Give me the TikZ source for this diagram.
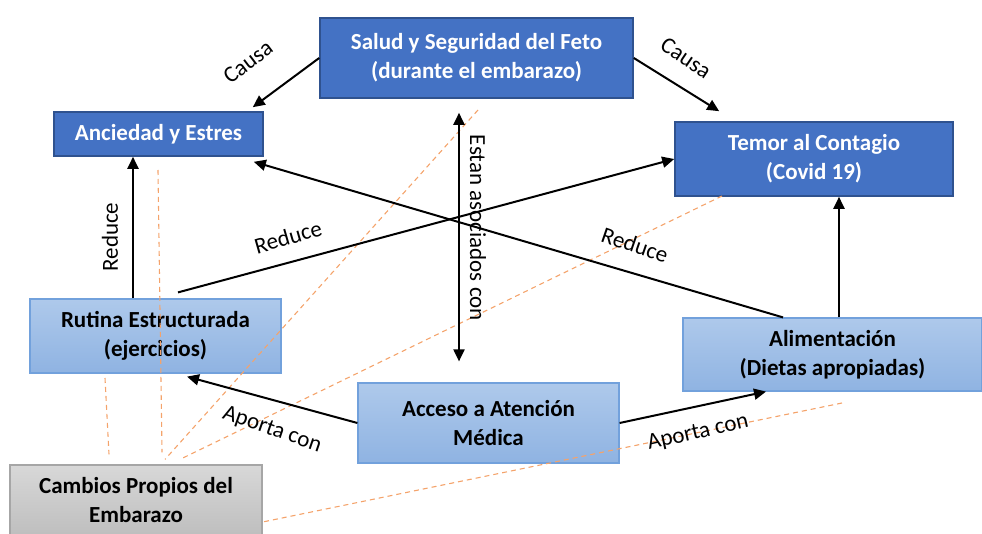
\documentclass[tikz,border=0pt]{standalone}
\usepackage{fontspec}
\setmainfont{Carlito}
\usetikzlibrary{arrows.meta}

\definecolor{boxblue}{HTML}{4472C4}
\definecolor{boxblueline}{HTML}{2F528F}
\definecolor{lightblueA}{HTML}{AEC9EB}
\definecolor{lightblueB}{HTML}{8FB3E2}
\definecolor{lightblueline}{HTML}{72A1DC}
\definecolor{greyA}{HTML}{D8D8D8}
\definecolor{greyB}{HTML}{BEBEBE}
\definecolor{greyline}{HTML}{A6A6A6}
\definecolor{dashorange}{HTML}{F4A36B}

\tikzset{
    darkbox/.style={fill=boxblue, draw=boxblueline, line width=1.6pt, text=white},
    lightbox/.style={top color=lightblueA, bottom color=lightblueB, draw=lightblueline, line width=1.2pt},
    greybox/.style={top color=greyA, bottom color=greyB, draw=greyline, line width=1.2pt}
}

\begin{document}
\begin{tikzpicture}[x=1pt, y=-1pt]
    \useasboundingbox (0,0) rectangle (982,534);

    \begin{scope}[every node/.style={rectangle, align=center, inner sep=0pt, font=\bfseries\fontsize{23}{29}\selectfont}]
        \node[darkbox, minimum width=313pt, minimum height=80pt] (salud) at (476.5,58) {Salud y Seguridad del Feto\\(durante el embarazo)};
        \node[darkbox, minimum width=209pt, minimum height=44pt] (anc) at (158.5,134) {Anciedad y Estres};
        \node[darkbox, minimum width=278pt, minimum height=74pt] (temor) at (814,159) {Temor al Contagio\\(Covid 19)};
        \node[lightbox, minimum width=251pt, minimum height=74pt] (rutina) at (155.5,336) {Rutina Estructurada\\(ejercicios)};
        \node[lightbox, minimum width=261pt, minimum height=80pt] (acceso) at (488.5,423) {Acceso a Atención\\Médica};
        \node[lightbox, minimum width=299pt, minimum height=73pt] (alim) at (832.5,354.5) {Alimentación\\(Dietas apropiadas)};
        \node[greybox, minimum width=252pt, minimum height=71pt] (cambios) at (136,500.5) {Cambios Propios del\\Embarazo};
    \end{scope}

    % free ends of the dashed lines
    \coordinate (d1) at (105,378);
    \coordinate (d2) at (158,170);
    \coordinate (d3) at (478,110);
    \coordinate (d4) at (722,196);
    \coordinate (d5) at (842,403);

    \begin{scope}[every edge/.style={draw, dashorange, line width=1.1pt, dash pattern=on 5pt off 4pt}]
        \path (d1) edge ([xshift=-27pt,yshift=10pt]cambios.north);
        \path (d2) edge ([xshift=26pt,yshift=12pt]cambios.north);
        \path (d3) edge ([xshift=29pt,yshift=5pt]cambios.north);
        \path (d4) edge ([xshift=44pt,yshift=5pt]cambios.north);
        \path (d5) edge ([yshift=-21.5pt]cambios.east);
    \end{scope}

    \begin{scope}[every edge/.style={draw, line width=2pt}, >={Triangle[length=12pt,width=11pt]}]
        \path [->] (salud.west) edge ([xshift=-11pt,yshift=4pt]anc.north east);
        \path [->] (salud.east) edge ([xshift=45pt,yshift=10pt]temor.north west);
        \path [<->] ([xshift=-17.5pt,yshift=-14pt]salud.south) edge ([xshift=-29.5pt,yshift=21pt]acceso.north);
        \path [->] ([xshift=-22.5pt]rutina.north) edge ([xshift=-25.5pt]anc.south);
        \path [->] ([xshift=22.5pt,yshift=6pt]rutina.north) edge (temor.west);
        \path [->] ([xshift=-49.5pt]alim.north) edge ([xshift=-10pt,yshift=-5pt]anc.south east);
        \path [->] ([xshift=6.5pt]alim.north) edge ([xshift=25pt]temor.south);
        \path [->] (acceso.west) edge ([xshift=31.5pt,yshift=-3pt]rutina.south);
        \path [->] (acceso.east) edge ([xshift=-66.5pt]alim.south);
    \end{scope}

    \begin{scope}[every node/.style={font=\fontsize{23}{28}\selectfont, inner sep=0pt}]
        \node[rotate=37] (causa1) at (248,62) {Causa};
        \node[rotate=-34] (causa2) at (686,58) {Causa};
        \node[rotate=-90] (asoc) at (478,228) {Estan asociados con};
        \node[rotate=90] (reduce1) at (110,237) {Reduce};
        \node[rotate=16] (reduce2) at (288,237) {Reduce};
        \node[rotate=-19] (reduce3) at (635,245) {Reduce};
        \node[rotate=-19] (aporta1) at (272,430) {Aporta con};
        \node[rotate=13] (aporta2) at (698,433) {Aporta con};
    \end{scope}
\end{tikzpicture}
\end{document}
